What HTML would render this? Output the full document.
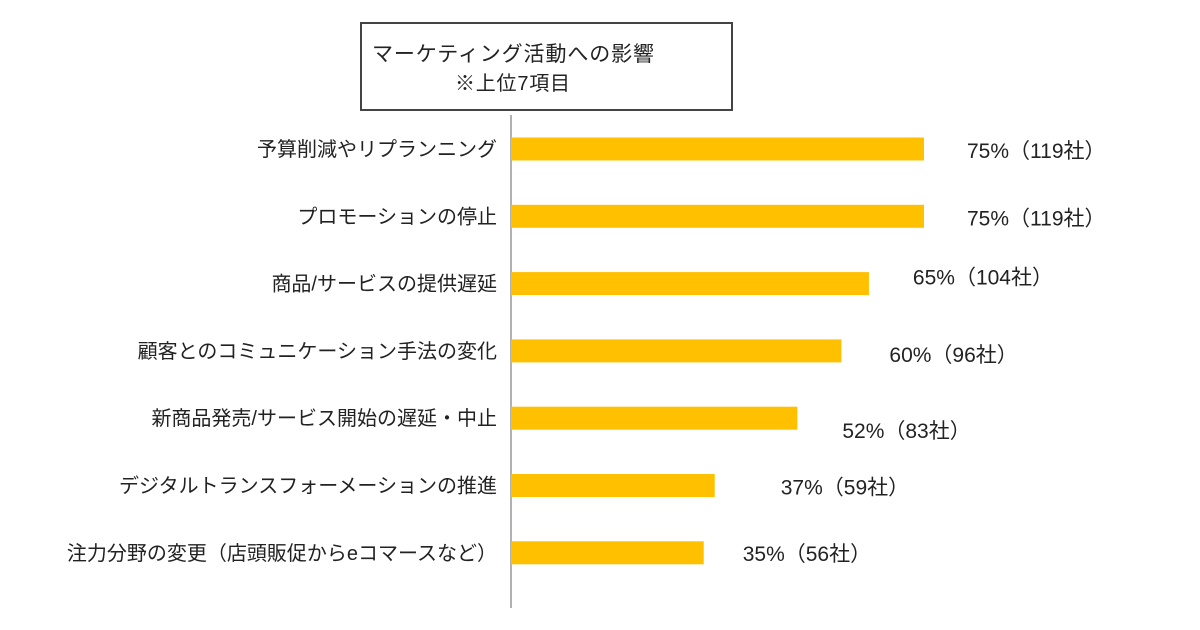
<!DOCTYPE html>
<html><head><meta charset="utf-8"><style>
body{margin:0;background:#fff;}
svg{display:block;font-family:"Liberation Sans","Noto Sans CJK JP",sans-serif;}
</style></head><body>
<svg id="chart" width="1200" height="630">
<rect x="361" y="23" width="371" height="87" fill="#fff" stroke="#444" stroke-width="2"/>
<text x="372" y="61" font-size="21" fill="#222" textLength="282">マーケティング活動への影響</text>
<text x="455" y="90" font-size="20" fill="#222" textLength="115">※上位7項目</text>
<line x1="511" y1="115" x2="511" y2="608" stroke="#999" stroke-width="1.5"/>
<g id="bars"></g>
</svg>
<script>
const categories=["予算削減やリプランニング","プロモーションの停止","商品/サービスの提供遅延","顧客とのコミュニケーション手法の変化","新商品発売/サービス開始の遅延・中止","デジタルトランスフォーメーションの推進","注力分野の変更（店頭販促からeコマースなど）"];
const percents=[75,75,65,60,52,37,35];
const counts=[119,119,104,96,83,59,56];
const x0=511, scale=413/75, top0=149, step=67.3, bh=23;
const xs=v=>x0+v*scale;
const ys=i=>top0+i*step;
// label placement nudges (layout only)
const nudgeX=[43,43,44,48,45,66,39];
const nudgeY=[1,1,-7,3,12,1,0];
const g=document.getElementById('bars');
const NS="http://www.w3.org/2000/svg";
categories.forEach((c,i)=>{
  const cy=ys(i);
  const t=document.createElementNS(NS,'text');
  t.setAttribute('x',497);t.setAttribute('y',cy+7);t.setAttribute('text-anchor','end');
  t.setAttribute('font-size','20');t.setAttribute('fill','#222');
  t.textContent=c;
  
  
  g.appendChild(t);
  const r=document.createElementNS(NS,'rect');
  r.setAttribute('x',x0);r.setAttribute('y',cy-bh/2);r.setAttribute('width',xs(percents[i])-x0);r.setAttribute('height',bh);
  r.setAttribute('fill','#FFC000');
  
  
  g.appendChild(r);
  const v=document.createElementNS(NS,'text');
  v.setAttribute('x',xs(percents[i])+nudgeX[i]);v.setAttribute('y',cy+8+nudgeY[i]);
  v.setAttribute('font-size','21');v.setAttribute('fill','#222');
  v.textContent=percents[i]+"%（"+counts[i]+"社）";
  
  
  g.appendChild(v);
});
</script>
</body></html>
